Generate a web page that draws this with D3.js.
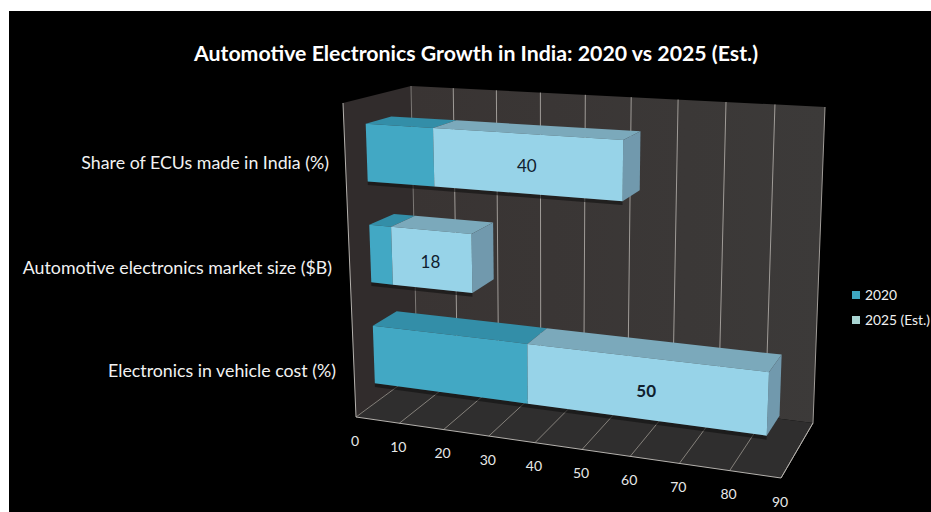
<!DOCTYPE html>
<html>
<head>
<meta charset="utf-8">
<script src="https://cdnjs.cloudflare.com/ajax/libs/d3/7.8.5/d3.min.js"></script>
<style>
html,body{margin:0;padding:0;background:#fff;}
svg{display:block;font-family:Lato,"Open Sans",sans-serif;}
</style>
</head>
<body>
<svg id="chart" width="931" height="512"></svg>
<script>
const chartTitle = "Automotive Electronics Growth in India: 2020 vs 2025 (Est.)";
const categories = ["Electronics in vehicle cost (%)", "Automotive electronics market size ($B)", "Share of ECUs made in India (%)"];
const seriesNames = ["2020", "2025 (Est.)"];
const values2020 = [35, 5, 15];
const values2025 = [50, 18, 40];
const tickValues = [0, 10, 20, 30, 40, 50, 60, 70, 80, 90];

const svg = d3.select("#chart");

// Black chart area, inset from the white page on the top and left
svg.append("rect").attr("x", 9).attr("y", 11).attr("width", 922).attr("height", 501).attr("fill", "#000");

// Corners of the 3D plot box: [value, depth, height]
const corners = {
  "000": [356, 417], "100": [781, 478], "010": [417, 372], "110": [813, 423],
  "001": [343, 103], "101": [795, 129], "011": [411, 86],  "111": [825, 107]
};

const xScale = d3.scaleLinear().domain([0, 90]).range([0, 1]);
const heightBand = d3.scaleBand().domain(categories).range([-0.003, 0.98]).paddingInner(0.43).paddingOuter(0.2);

// Foreshortening along the value axis: ticks spread out toward the viewer's right
const warp = t => t / (1.1 - 0.1 * t);

function project(value, depth, height) {
  const u = warp(xScale(value)), v = depth, w = height;
  const lerp = (a, b, t) => [a[0] + (b[0] - a[0]) * t, a[1] + (b[1] - a[1]) * t];
  const floor = lerp(lerp(corners["000"], corners["100"], u), lerp(corners["010"], corners["110"], u), v);
  const top = lerp(lerp(corners["001"], corners["101"], u), lerp(corners["011"], corners["111"], u), v);
  return lerp(floor, top, w);
}

const poly = d3.line().curve(d3.curveLinearClosed);
const seg = d3.line();

// Walls and floor
const wallGrad = svg.append("defs").append("linearGradient").attr("id", "wall").attr("x1", 0).attr("x2", 1).attr("y1", 0).attr("y2", 0);
wallGrad.append("stop").attr("offset", 0).attr("stop-color", "#393433");
wallGrad.append("stop").attr("offset", 1).attr("stop-color", "#3c3a39");

const xMax = xScale.domain()[1];
svg.append("path").attr("d", poly([project(0,0,0), project(0,1,0), project(0,1,1), project(0,0,1)])).attr("fill", "#312c2c");
svg.append("path").attr("d", poly([project(0,1,0), project(xMax,1,0), project(xMax,1,1), project(0,1,1)])).attr("fill", "url(#wall)");
svg.append("path").attr("d", poly([project(0,0,0), project(xMax,0,0), project(xMax,1,0), project(0,1,0)])).attr("fill", "#2f2e2e");

// Gridlines on the back wall and floor
const gridColor = "#a09c98";
tickValues.forEach(t => {
  svg.append("path").attr("d", seg([project(t,1,0), project(t,1,1)])).attr("stroke", t === 0 ? "#7d7976" : gridColor).attr("stroke-width", 1).attr("fill", "none");
  svg.append("path").attr("d", seg([project(t,0,0), project(t,1,0)])).attr("stroke", "#85817b").attr("stroke-width", 1).attr("fill", "none");
});

// Box edges
[
  [project(0,0,0), project(xMax,0,0)],
  [project(0,0,0), project(0,0,1)],
  [project(xMax,0,0), project(xMax,1,0)]
].forEach(p => svg.append("path").attr("d", seg(p)).attr("stroke", "#b5b2ae").attr("stroke-width", 1).attr("fill", "none"));

// Stacked bars, back to front
const palette = [
  { front: "#42a8c4", top: "#338ea8", side: "#2f8199" },
  { front: "#97d3e8", top: "#7ba9bb", side: "#7199ad" }
];
const dNear = 0.32, dFar = 0.7;

const rows = categories.map((c, i) => ({ c, a: values2020[i], b: values2025[i] })).reverse();

const bars = svg.selectAll("g.bar").data(rows).join("g").attr("class", "bar");
bars.each(function (d) {
  const g = d3.select(this);
  const h0 = heightBand(d.c), h1 = h0 + heightBand.bandwidth();
  const parts = [[0, d.a, 0], [d.a, d.a + d.b, 1]];
  // Thin contact shadow beneath the front face
  g.append("path").attr("d", poly([project(0,dNear,h0), project(d.a+d.b,dNear,h0), project(d.a+d.b,dNear,h0-0.012), project(0,dNear,h0-0.012)])).attr("fill", "#111").attr("opacity", 0.6);
  parts.forEach(([s, e, k]) => {
    const col = palette[k];
    g.append("path").attr("d", poly([project(s,dNear,h1), project(e,dNear,h1), project(e,dFar,h1), project(s,dFar,h1)])).attr("fill", col.top);
    if (k === 1) {
      g.append("path").attr("d", poly([project(e,dNear,h0), project(e,dFar,h0), project(e,dFar,h1), project(e,dNear,h1)])).attr("fill", col.side);
    }
    g.append("path").attr("d", poly([project(s,dNear,h0), project(e,dNear,h0), project(e,dNear,h1), project(s,dNear,h1)])).attr("fill", col.front);
  });
  // Value label centred on the 2025 segment's front face
  const p1 = project(d.a, dNear, (h0 + h1) / 2), p2 = project(d.a + d.b, dNear, (h0 + h1) / 2);
  g.append("text").attr("x", (p1[0] + p2[0]) / 2 - 1.5).attr("y", (p1[1] + p2[1]) / 2 + 2)
    .attr("text-anchor", "middle").attr("dominant-baseline", "central")
    .attr("font-size", 17).attr("font-weight", d.b === d3.max(values2025) ? 700 : 400).attr("fill", "#10202e")
    .text(d.b);
});

// Value axis labels
svg.selectAll("text.tick").data(tickValues).join("text").attr("class", "tick")
  .attr("x", d => project(d,0,0)[0] - 1)
  .attr("y", d => project(d,0,0)[1] + 23)
  .attr("text-anchor", "middle").attr("dominant-baseline", "central")
  .attr("font-size", 14).attr("fill", "#e8e8e8").text(d => d);

// Category labels
const categoryLabelAnchors = [[336, 371], [332, 268], [329, 163]];
svg.selectAll("text.cat").data(categories).join("text").attr("class", "cat")
  .attr("x", (d, i) => categoryLabelAnchors[i][0]).attr("y", (d, i) => categoryLabelAnchors[i][1] - 1)
  .attr("text-anchor", "end").attr("dominant-baseline", "central")
  .attr("font-size", 17.8).attr("fill", "#f2f2f2").text(d => d);

// Title
svg.append("text").attr("x", 476).attr("y", 53).attr("text-anchor", "middle").attr("dominant-baseline", "central")
  .attr("font-size", 21.3).attr("font-weight", 700).attr("fill", "#fff").text(chartTitle);

// Legend
const legendColors = ["#3ea6c0", "#a9d5d2"];
const legend = svg.selectAll("g.legend").data(seriesNames).join("g").attr("class", "legend")
  .attr("transform", (d, i) => `translate(852,${291 + i * 25})`);
legend.append("rect").attr("width", 8).attr("height", 8).attr("fill", (d, i) => legendColors[i]);
legend.append("text").attr("x", 13).attr("y", 3.5).attr("dominant-baseline", "central").attr("font-size", 13.8).attr("fill", "#f0f0f0").text(d => d);
</script>
</body>
</html>
